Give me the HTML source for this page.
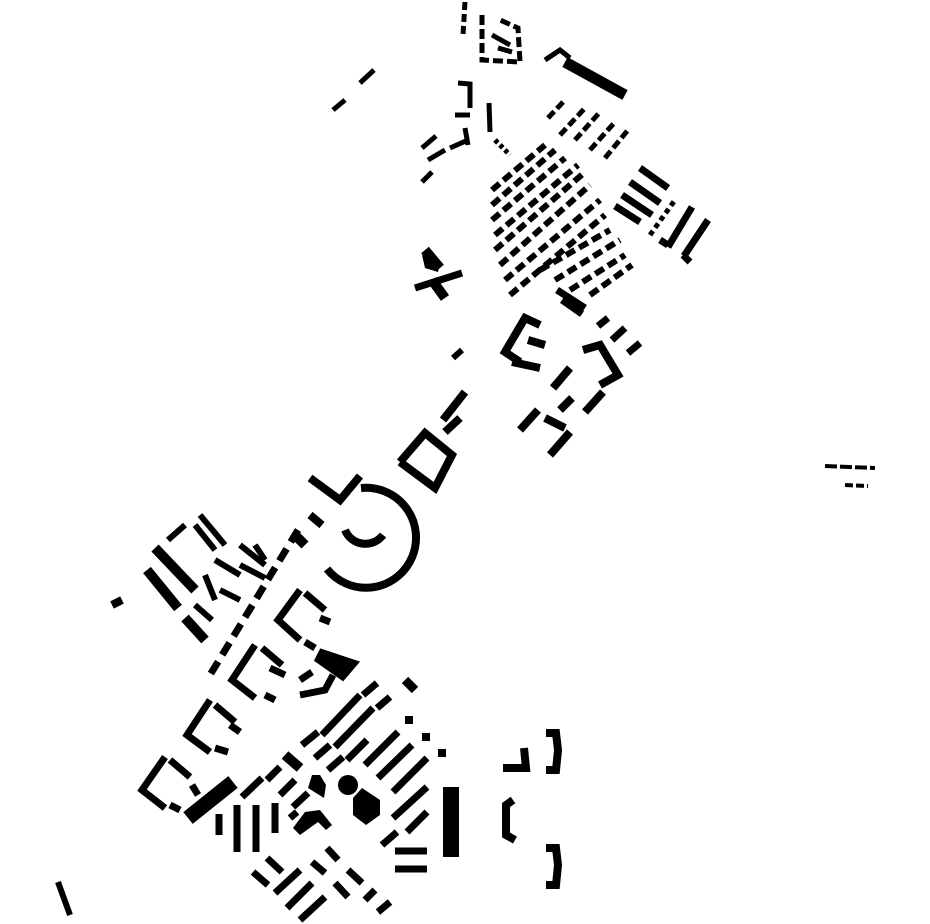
<!DOCTYPE html>
<html><head><style>html,body{margin:0;padding:0;background:#fff}svg{display:block}</style></head><body>
<svg width="930" height="924" viewBox="0 0 930 924" xmlns="http://www.w3.org/2000/svg">
<g stroke="#000" fill="none" stroke-linecap="butt">
<!-- top cluster -->
<g stroke-width="5">
<path d="M465 2 L463 35" stroke-dasharray="8 4"/>
<path d="M482 15 L482 60 L520 62 L518 28 L500 20" stroke-dasharray="10 4"/>
<path d="M492 35 L510 45 M498 48 L512 52"/>
<path d="M545 60 L560 50 L570 58"/>
<path d="M333 110 L345 100 M360 83 L374 70"/>
<path d="M458 83 L470 84 L470 108 M455 115 L470 115 M489 103 L490 132"/>
<path d="M422 148 L436 136 M428 160 L445 150 M450 148 L468 140 M422 182 L432 172 M465 128 L468 145"/>
<path d="M495 140 L510 155" stroke-dasharray="4 3"/>
</g>
<path d="M565 62 L625 95" stroke-width="11"/>
<!-- NE small grid -->
<g stroke-width="5" stroke-dasharray="9 4">
<path d="M548 118 L565 100 M560 135 L585 108 M575 140 L600 112 M590 150 L615 122 M605 158 L628 130"/>
</g>
<!-- main grid cluster -->
<g stroke-width="6" stroke-dasharray="10 5">
<path d="M492 190 L545 145 M492 205 L555 150 M492 220 L565 158 M495 235 L578 165"/>
<path d="M495 250 L585 172 M500 265 L590 185 M505 280 L600 200 M510 295 L605 215"/>
<path d="M540 270 L610 230 M555 280 L620 240 M570 290 L625 255 M590 295 L632 265"/>
</g>
<!-- right bars -->
<g stroke-width="7">
<path d="M640 168 L668 188 M630 182 L660 203 M622 195 L652 215 M615 206 L640 222"/>
<path d="M692 207 L668 247 M708 220 L684 256 M683 255 L690 262 M660 240 L668 245"/>
<path d="M650 235 L675 200" stroke-dasharray="5 4" stroke-width="5"/>
<path d="M557 290 L585 308 M562 300 L582 314"/>
<path d="M598 326 L608 318 M612 340 L625 328 M628 353 L640 343"/>
</g>
<!-- cross -->
<path d="M415 288 L462 273" stroke-width="7"/>
<path d="M425 250 L440 268 M432 280 L445 298" stroke-width="10"/>
<path d="M453 358 L462 350" stroke-width="6"/>
<!-- middle blocks -->
<g stroke-width="8">
<path d="M540 325 L525 318 L505 352 L520 362 M512 362 L540 368 M528 340 L545 345"/>
<path d="M583 350 L600 345 L618 375 L600 385"/>
<path d="M553 388 L570 368 M560 410 L572 398 M585 412 L603 392 M520 430 L538 410 M550 455 L570 432 M545 418 L565 428"/>
<path d="M443 420 L465 392 M445 432 L460 418"/>
<path d="M400 462 L425 433 L452 455 L435 488 L400 462"/>
<path d="M310 478 L340 500 L360 476 M310 515 L322 525"/>
</g>
<!-- arc -->
<path d="M361 488 A50 50 0 1 1 327 569" stroke-width="8"/>
<path d="M345 530 A22 22 0 0 0 383 535" stroke-width="8"/>
<!-- left cluster -->
<g stroke-width="10">
<path d="M155 548 L195 590 M147 570 L178 608 M185 618 L205 640"/>
</g>
<g stroke-width="6">
<path d="M200 515 L225 545 M195 525 L215 550 M240 545 L265 565 M240 565 L265 578 M215 560 L240 575 M220 590 L240 600 M205 575 L215 600 M195 605 L212 620 M168 540 L185 525 M255 545 L265 560"/>
<path d="M112 605 L122 600" stroke-width="8"/>
<path d="M298 530 L210 675" stroke-dasharray="14 8" stroke-width="7"/>
<path d="M295 535 L305 545" stroke-width="10"/>
</g>
<!-- square blocks -->
<g stroke-width="7">
<path d="M300 590 L278 620 L300 640 M305 593 L325 610"/>
<path d="M255 645 L232 680 L255 698 M262 648 L282 665"/>
<path d="M210 700 L187 735 L210 752 M215 705 L235 722"/>
<path d="M165 757 L142 790 L165 808 M170 760 L190 777"/>
<path d="M320 618 L330 622 M305 642 L315 648 M270 668 L285 675 M265 695 L275 700 M230 725 L240 732 M215 748 L228 752 M192 785 L198 795 M170 805 L180 810"/>
</g>
<path d="M318 655 L348 665 L342 672 Z" stroke-width="14"/>
<path d="M300 695 L325 690 L333 675 M300 680 L312 672" stroke-width="7"/>
<path d="M405 680 L415 690" stroke-width="9"/>
<!-- bottom cluster NE bars -->
<g stroke-width="7">
<path d="M302 745 L318 732 M322 735 L360 695 M363 695 L377 683 M335 747 L373 708 M377 708 L390 697 M315 758 L330 745 M328 770 L343 757 M347 760 L367 740 M365 765 L398 732 M378 778 L412 745 M393 792 L427 758 M393 818 L427 787 M407 832 L427 812 M382 845 L397 832"/>
<path d="M242 797 L262 778 M267 780 L280 767 M280 795 L295 780 M293 807 L308 793 M290 818 L297 812"/>
<path d="M275 893 L300 870 M287 908 L312 883 M300 920 L325 897 M378 912 L390 902 M365 900 L375 890"/>
<path d="M253 872 L268 885 M267 858 L282 872 M312 862 L325 873 M327 848 L338 860 M335 883 L348 897 M348 870 L362 883"/>
<path d="M219 814 L219 835 M237 805 L237 852 M256 805 L256 852 M275 803 L275 833"/>
<path d="M395 851 L427 851 M395 869 L427 869"/>
</g>
<path d="M188 818 L233 782" stroke-width="15"/>
<path d="M285 755 L300 768" stroke-width="10"/>
</g>
<g fill="#000">
<rect x="443" y="787" width="16" height="70"/>
<circle cx="348" cy="785" r="10"/>
<polygon points="362,788 380,800 380,815 366,825 353,815 353,798"/>
<polygon points="312,775 320,775 326,785 324,798 308,788"/>
<polygon points="305,812 320,810 332,825 326,830 318,822 300,835 293,828"/>
<rect x="405" y="716" width="8" height="8"/>
<rect x="422" y="733" width="8" height="8"/>
<rect x="438" y="749" width="8" height="8"/>
<polygon points="422,255 440,262 438,272 425,268"/>
</g>
<!-- right brackets -->
<g stroke="#000" fill="none" stroke-width="8">
<path d="M546 733 L556 733 L558 750 L556 770 L546 770"/>
<path d="M503 768 L526 768 L524 748"/>
<path d="M513 800 L506 805 L506 835 L515 840"/>
<path d="M546 848 L556 848 L558 865 L556 885 L546 885"/>
<path d="M58 882 L70 915" stroke-width="6"/>
<path d="M825 466 L875 468" stroke-width="4" stroke-dasharray="12 3"/>
<path d="M845 485 L868 486" stroke-width="4" stroke-dasharray="8 3"/>
</g>
</svg>
</body></html>
